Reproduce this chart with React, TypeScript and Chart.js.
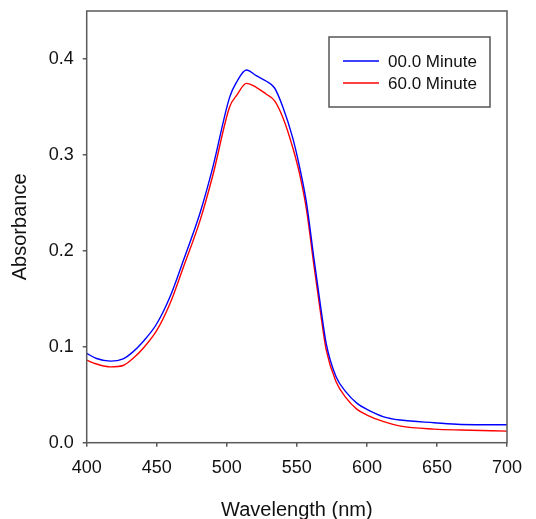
import React, { useEffect, useRef } from "react";
import { Chart, registerables } from "chart.js";

Chart.register(...registerables);

const wavelengths = [400, 407, 417, 426, 433, 440, 450, 460, 469, 481, 490, 502, 507, 514, 521, 528, 534, 540, 547, 552, 557, 562, 567, 571, 578, 585, 593, 600, 612, 624, 648, 667, 700];
const minute00 = [0.093, 0.0878, 0.085, 0.0874, 0.0947, 0.105, 0.124, 0.154, 0.19, 0.24, 0.287, 0.36, 0.376, 0.3885, 0.3826, 0.377, 0.37, 0.35, 0.318, 0.287, 0.249, 0.194, 0.1415, 0.103, 0.0687, 0.053, 0.041, 0.0347, 0.027, 0.0236, 0.0208, 0.019, 0.0187];
const minute60 = [0.086, 0.082, 0.079, 0.0805, 0.0878, 0.098, 0.117, 0.147, 0.183, 0.232, 0.2785, 0.35, 0.362, 0.3746, 0.3705, 0.3635, 0.3566, 0.339, 0.308, 0.28, 0.242, 0.187, 0.1346, 0.0964, 0.0635, 0.047, 0.0347, 0.0288, 0.0219, 0.0173, 0.0142, 0.0132, 0.0121];
const seriesLabels = ["00.0 Minute", "60.0 Minute"];
const xTickValues = [400, 450, 500, 550, 600, 650, 700];
const yTickValues = [0.0, 0.1, 0.2, 0.3, 0.4];

const FONT = "'Liberation Sans', Arial, sans-serif";

const framePlugin = {
  id: "frame",
  afterDraw(chart: any) {
    const { ctx, chartArea } = chart;
    ctx.save();
    ctx.strokeStyle = "#5a5a5a";
    ctx.lineWidth = 1.5;
    ctx.strokeRect(chartArea.left, chartArea.top, chartArea.right - chartArea.left, chartArea.bottom - chartArea.top);
    ctx.restore();
  },
};

const legendPlugin = {
  id: "boxLegend",
  afterDraw(chart: any) {
    const { ctx, chartArea } = chart;
    const bx = chartArea.right - 178;
    const by = chartArea.top + 26;
    const bw = 161;
    const bh = 70;
    ctx.save();
    ctx.fillStyle = "#ffffff";
    ctx.fillRect(bx, by, bw, bh);
    ctx.strokeStyle = "#555555";
    ctx.lineWidth = 1.5;
    ctx.strokeRect(bx, by, bw, bh);
    ctx.font = `17px ${FONT}`;
    ctx.textBaseline = "middle";
    ctx.textAlign = "left";
    chart.data.datasets.forEach((ds: any, i: number) => {
      const y = by + 24 + i * 22;
      ctx.strokeStyle = ds.borderColor;
      ctx.lineWidth = 1.3;
      ctx.beginPath();
      ctx.moveTo(bx + 14, y);
      ctx.lineTo(bx + 50, y);
      ctx.stroke();
      ctx.fillStyle = "#111111";
      ctx.fillText(ds.label, bx + 59, y + 1);
    });
    ctx.restore();
  },
};

export default function App() {
  const ref = useRef<HTMLCanvasElement | null>(null);
  useEffect(() => {
    if (!ref.current) return;
    const chart = new Chart(ref.current, {
      type: "line",
      data: {
        datasets: [
          {
            label: seriesLabels[0],
            data: wavelengths.map((x, i) => ({ x, y: minute00[i] })),
            borderColor: "#0000ff",
            borderWidth: 1.4,
            pointRadius: 0,
            cubicInterpolationMode: "monotone",
            fill: false,
          },
          {
            label: seriesLabels[1],
            data: wavelengths.map((x, i) => ({ x, y: minute60[i] })),
            borderColor: "#ff0000",
            borderWidth: 1.4,
            pointRadius: 0,
            cubicInterpolationMode: "monotone",
            fill: false,
          },
        ],
      },
      options: {
        animation: false,
        responsive: false,
        devicePixelRatio: 1,
        layout: { padding: { top: 11, right: 29, left: 0, bottom: 0 } },
        plugins: { legend: { display: false }, tooltip: { enabled: false } },
        scales: {
          x: {
            type: "linear",
            min: 400,
            max: 700,
            afterBuildTicks: (s: any) => {
              s.ticks = xTickValues.map((v) => ({ value: v }));
            },
            afterFit: (s: any) => {
              s.height = 97.3;
              s.paddingLeft = 0;
              s.paddingRight = 0;
            },
            ticks: {
              color: "#111111",
              font: { family: FONT, size: 18 },
              padding: 11,
              maxRotation: 0,
              autoSkip: false,
              callback: (v: any) => String(v),
            },
            grid: { display: true, drawOnChartArea: false, drawTicks: true, tickLength: 4, color: "#5a5a5a", lineWidth: 1.5 },
            border: { display: false },
            title: {
              display: true,
              text: "Wavelength (nm)",
              color: "#111111",
              font: { family: FONT, size: 20 },
              padding: { top: 0, bottom: 18 },
            },
          },
          y: {
            type: "linear",
            min: 0,
            max: 0.45,
            afterBuildTicks: (s: any) => {
              s.ticks = yTickValues.map((v) => ({ value: v }));
            },
            afterFit: (s: any) => {
              s.width = 86.7;
              s.paddingTop = 0;
              s.paddingBottom = 0;
            },
            ticks: {
              color: "#111111",
              font: { family: FONT, size: 18 },
              padding: 9,
              autoSkip: false,
              callback: (v: any) => Number(v).toFixed(1),
            },
            grid: { display: true, drawOnChartArea: false, drawTicks: true, tickLength: 4, color: "#5a5a5a", lineWidth: 1.5 },
            border: { display: false },
            title: {
              display: true,
              text: "Absorbance",
              color: "#111111",
              font: { family: FONT, size: 20 },
              padding: { top: 8, bottom: 0 },
            },
          },
        },
      },
      plugins: [framePlugin, legendPlugin],
    } as any);
    return () => chart.destroy();
  }, []);
  return (
    <div style={{ position: "fixed", left: 0, top: 0, width: 536, height: 519, overflow: "hidden", background: "#fff" }}>
      <canvas ref={ref} width={536} height={540} style={{ display: "block", width: 536, height: 540 }} />
    </div>
  );
}
